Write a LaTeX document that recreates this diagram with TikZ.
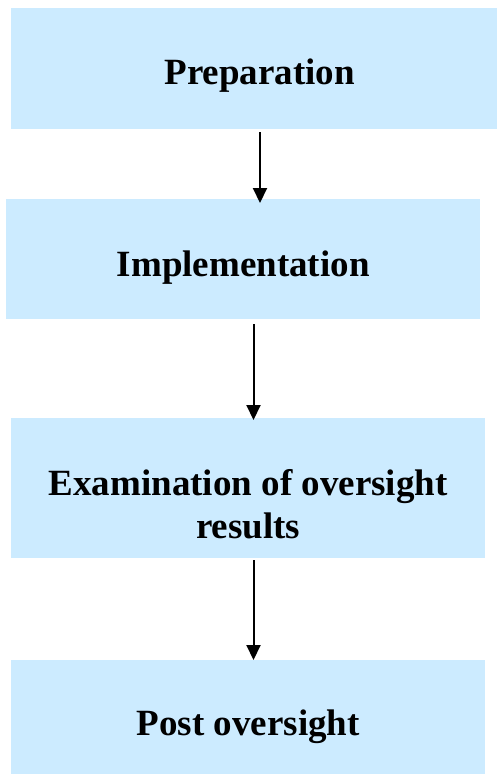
\documentclass[tikz,border=0pt]{standalone}
\usepackage{fontspec}
\setmainfont{Liberation Serif}
\usetikzlibrary{arrows.meta}
\definecolor{boxblue}{HTML}{CCEBFF}
\tikzset{
  stepbox/.style={fill=boxblue, draw=none, inner sep=0pt, anchor=north west},
  steptext/.style={font=\fontsize{37}{43}\selectfont\bfseries, align=center, inner sep=0pt},
  arr/.style={line width=2pt, -{Triangle[width=14pt,length=15pt]}}
}
\begin{document}
\begin{tikzpicture}[x=1pt,y=-1pt]
\useasboundingbox (0,0) rectangle (497,774);
\clip (0,0) rectangle (497,774);
\node[stepbox, minimum width=497pt, minimum height=121pt] (b1) at (11,8) {};
\node[stepbox, minimum width=474pt, minimum height=120pt] (b2) at (6,199) {};
\node[stepbox, minimum width=474pt, minimum height=140pt] (b3) at (11,418) {};
\node[stepbox, minimum width=474pt, minimum height=114pt] (b4) at (11,660) {};
\node[steptext] (t1) at ([yshift=-7pt]b1.center) {Preparation};
\node[steptext] (t2) at ([yshift=-8pt]b2.center) {Implementation};
\node[steptext] (t3) at ([yshift=-16pt]b3.center) {Examination of oversight\\results};
\node[steptext] (t4) at ([yshift=-10pt]b4.center) {Post oversight};
\coordinate (a2) at (253.5,0);
\draw[arr, shorten <=3pt, shorten >=-4pt] (b1.south -| 260,0) -- (b2.north -| 260,0);
\draw[arr, shorten <=5pt, shorten >=-2pt] (b2.south -| a2) -- (b3.north -| a2);
\draw[arr, shorten <=2pt] (b3.south -| a2) -- (b4.north -| a2);
\end{tikzpicture}
\end{document}
